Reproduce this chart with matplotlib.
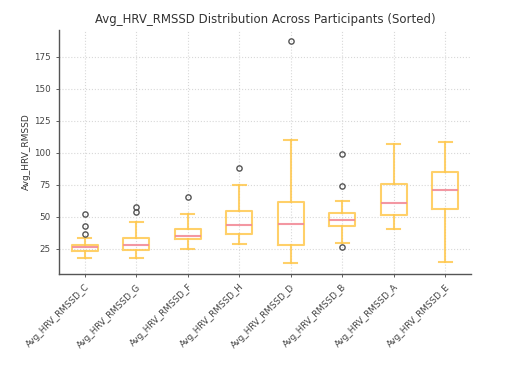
import matplotlib
matplotlib.use("Agg")
import matplotlib.pyplot as plt

labels = ["Avg_HRV_RMSSD_C", "Avg_HRV_RMSSD_G", "Avg_HRV_RMSSD_F", "Avg_HRV_RMSSD_H",
          "Avg_HRV_RMSSD_D", "Avg_HRV_RMSSD_B", "Avg_HRV_RMSSD_A", "Avg_HRV_RMSSD_E"]
whislo = [18.0, 18.0, 25.0, 28.9, 14.1, 29.7, 40.3, 14.9]
q1     = [23.4, 23.9, 32.8, 36.9, 28.1, 42.6, 51.2, 56.2]
med    = [26.5, 28.3, 35.1, 43.4, 44.7, 47.3, 61.1, 71.2]
q3     = [28.3, 33.6, 40.6, 54.3, 61.6, 53.0, 75.3, 85.2]
whishi = [33.3, 45.7, 52.5, 74.5, 110.1, 62.4, 107.2, 108.0]
fliers = [[52.5, 42.6, 36.9], [57.9, 54.0], [65.5], [88.1], [187.0],
          [99.2, 73.8, 26.2], [], []]

stats = [dict(label=l, whislo=a, q1=b, med=c, q3=d, whishi=e, fliers=f)
         for l, a, b, c, d, e, f in zip(labels, whislo, q1, med, q3, whishi, fliers)]

fig = plt.figure(figsize=(5.11, 3.67), dpi=100)
ax = fig.add_axes([0.1155, 0.2534, 0.8062, 0.6646])

box_c = "#FFC84F"
lw = 1.5
ax.bxp(stats, widths=0.5,
       boxprops=dict(color=box_c, linewidth=lw, alpha=0.85),
       whiskerprops=dict(color=box_c, linewidth=lw, alpha=0.85),
       capprops=dict(color=box_c, linewidth=lw, alpha=0.85),
       medianprops=dict(color="#F28C98", linewidth=1.5, alpha=0.9),
       flierprops=dict(marker="o", markerfacecolor="none", markeredgecolor="#555555",
                       markersize=3.8, markeredgewidth=1.0))

ax.set_title("Avg_HRV_RMSSD Distribution Across Participants (Sorted)", fontsize=8.5,
             color="#333333", pad=5)
ax.set_ylabel("Avg_HRV_RMSSD", fontsize=6.5, color="#333333", labelpad=2)
ax.set_yticks([25, 50, 75, 100, 125, 150, 175])
ax.tick_params(axis="both", labelsize=6.3, colors="#444444", length=2.5, width=0.6)
plt.setp(ax.get_xticklabels(), rotation=45, ha="right", rotation_mode="anchor")
ax.grid(True, color="#D8D8D8", linestyle=":", linewidth=0.8)
ax.set_axisbelow(True)
for s in ["top", "right"]:
    ax.spines[s].set_visible(False)
for s in ["left", "bottom"]:
    ax.spines[s].set_color("#555555")
    ax.spines[s].set_linewidth(1.0)

fig.savefig("out.png", dpi=100)
